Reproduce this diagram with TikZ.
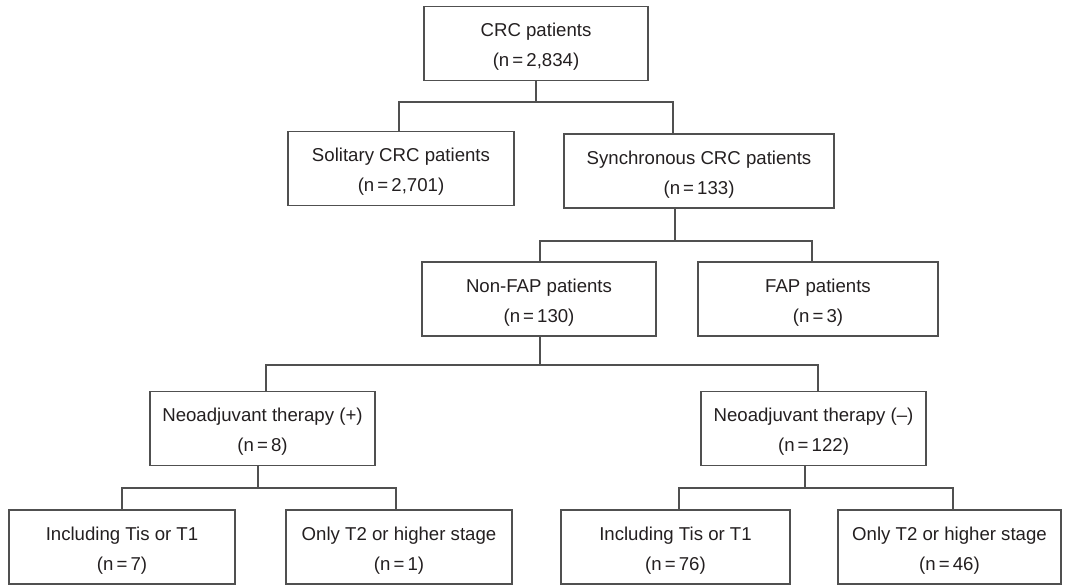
\documentclass[tikz,border=0pt]{standalone}
\usepackage{fontspec}
\setmainfont{Liberation Sans}
\definecolor{boxgray}{HTML}{505050}
\definecolor{textgray}{HTML}{231F20}

\begin{document}
\begin{tikzpicture} [x = 0.02cm, y = -0.02cm,
  box/.style = {draw = boxgray, line width = 0.7pt, rectangle, inner sep = 0pt,
    minimum height = 1.48cm, align = center, text = textgray,
    font = \fontsize{10.6}{17}\selectfont},
  link/.style = {draw = boxgray, line width = 0.6pt}]
\useasboundingbox (0, 0) rectangle (1074, 586);
\newcommand{\up}{\rule{0pt}{0.40cm}}
\node[box, minimum width = 4.48cm] (crc) at (536, 43.5){\up CRC patients\\(n\,=\,2,834)};
\node[box, minimum width = 4.52cm] (solitary) at (401, 168.5){\up Solitary CRC patients\\(n\,=\,2,701)};
\node[box, minimum width = 5.40cm] (sync) at (699, 171){\up Synchronous CRC patients\\(n\,=\,133)};
\node[box, minimum width = 4.68cm] (nonfap) at (539, 299){\up Non-FAP patients\\(n\,=\,130)};
\node[box, minimum width = 4.80cm] (fap) at (818, 299){\up FAP patients\\(n\,=\,3)};
\node[box, minimum width = 4.50cm] (neopos) at (262.5, 428.5){\up Neoadjuvant therapy (+)\\(n\,=\,8)};
\node[box, minimum width = 4.50cm] (neoneg) at (813.5, 428.5){\up Neoadjuvant therapy (–)\\(n\,=\,122)};
\node[box, minimum width = 4.52cm] (posearly) at (122, 547){\up Including Tis or T1\\(n\,=\,7)};
\node[box, minimum width = 4.52cm] (poslate) at (399, 547){\up Only T2 or higher stage\\(n\,=\,1)};
\node[box, minimum width = 4.58cm] (negearly) at (675.5, 547){\up Including Tis or T1\\(n\,=\,76)};
\node[box, minimum width = 4.46cm] (neglate) at (949.5, 547){\up Only T2 or higher stage\\(n\,=\,46)};
% branch points
\coordinate (crcl) at (399, 102);
\coordinate (crcr) at (673, 102);
\coordinate (syncm) at (675, 241);
\coordinate (syncl) at (540, 241);
\coordinate (syncr) at (812, 241);
\coordinate (nfapl) at (266, 365);
\coordinate (nfapr) at (818, 365);
\coordinate (posm) at (258, 488);
\coordinate (posl) at (122, 488);
\coordinate (posr) at (396, 488);
\coordinate (negm) at (805, 488);
\coordinate (negl) at (679, 488);
\coordinate (negr) at (953, 488);
\draw[link] (crc.south) -- (crc.south |- crcl);
\draw[link] (solitary.north -| crcl) -- (crcl) -- (crcr) -- (sync.north -| crcr);
\draw[link] (sync.south -| syncm) -- (syncm);
\draw[link] (nonfap.north -| syncl) -- (syncl) -- (syncr) -- (fap.north -| syncr);
\draw[link] (nonfap.south -| syncl) -- (syncl |- nfapl);
\draw[link] (neopos.north -| nfapl) -- (nfapl) -- (nfapr) -- (neoneg.north -| nfapr);
\draw[link] (neopos.south -| posm) -- (posm);
\draw[link] (posearly.north -| posl) -- (posl) -- (posr) -- (poslate.north -| posr);
\draw[link] (neoneg.south -| negm) -- (negm);
\draw[link] (negearly.north -| negl) -- (negl) -- (negr) -- (neglate.north -| negr);
\end{tikzpicture}
\end{document}
